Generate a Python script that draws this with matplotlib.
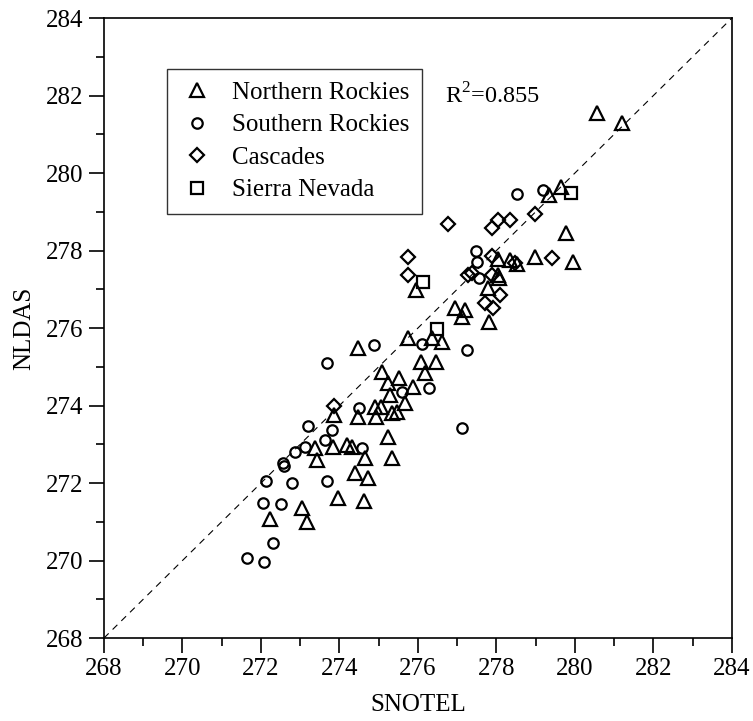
import matplotlib
matplotlib.use("Agg")
import matplotlib.pyplot as plt
from matplotlib.ticker import MultipleLocator, FormatStrFormatter

plt.rcParams['font.family'] = ['Liberation Serif', 'DejaVu Serif']
plt.rcParams['mathtext.fontset'] = 'custom'
plt.rcParams['mathtext.rm'] = 'Liberation Serif'

# Northern Rockies (triangles)
nr_x = [280.56, 281.2, 279.64, 279.34, 279.77, 279.95, 278.98, 278.04, 278.34, 278.52,
        278.04, 278.06, 277.78, 276.94, 277.2, 277.12, 277.81, 275.95, 275.75, 276.36,
        276.61, 276.08, 276.46, 276.18, 275.52, 275.87, 275.67, 275.46, 275.25, 275.34,
        274.47, 275.08, 275.24, 275.29, 273.86, 274.47, 274.9, 275.06, 274.93, 275.34,
        273.38, 273.83, 274.19, 274.32, 274.65, 273.43, 274.39, 274.73, 273.96, 274.62,
        273.04, 272.23, 273.17]
nr_y = [281.55, 281.3, 279.64, 279.43, 278.45, 277.70, 277.83, 277.78, 277.75, 277.65,
        277.37, 277.29, 277.03, 276.52, 276.46, 276.28, 276.15, 276.98, 275.74, 275.74,
        275.64, 275.12, 275.12, 274.84, 274.71, 274.48, 274.06, 273.83, 273.2, 272.65,
        275.48, 274.86, 274.58, 274.27, 273.76, 273.7, 273.96, 273.96, 273.7, 273.81,
        272.9, 272.93, 272.98, 272.93, 272.65, 272.59, 272.26, 272.13, 271.61, 271.54,
        271.35, 271.07, 270.99]

# Southern Rockies (circles)
sr_x = [279.18, 278.52, 277.48, 277.5, 277.55, 277.25, 276.1, 276.28, 275.6, 277.12,
        273.68, 274.88, 274.5, 273.2, 273.81, 273.63, 274.57, 272.87, 273.12, 272.56,
        272.58, 272.13, 272.79, 273.68, 272.05, 272.51, 272.31, 271.64, 272.08]
sr_y = [279.56, 279.46, 277.99, 277.70, 277.29, 275.43, 275.6, 274.45, 274.35, 273.42,
        275.1, 275.56, 273.94, 273.47, 273.37, 273.11, 272.9, 272.8, 272.93, 272.52,
        272.45, 272.05, 272.0, 272.05, 271.48, 271.46, 270.45, 270.06, 269.96]

# Cascades (diamonds)
ca_x = [276.77, 275.75, 275.75, 273.85, 277.88, 278.04, 278.34, 278.98, 277.9, 278.47,
        279.41, 277.38, 277.88, 278.09, 277.71, 277.91, 277.27]
ca_y = [278.68, 277.83, 277.37, 274.0, 278.58, 278.79, 278.79, 278.94, 277.86, 277.68,
        277.8, 277.42, 277.37, 276.85, 276.65, 276.52, 277.37]

# Sierra Nevada (squares)
sn_x = [279.9, 276.13, 276.48]
sn_y = [279.48, 277.19, 275.97]

fig = plt.figure(figsize=(7.53, 7.21), dpi=100)
ax = fig.add_axes([0.138, 0.115, 0.834, 0.86])

ax.plot([268, 284], [268, 284], color='black', lw=0.8, ls=(0, (6, 5)))

kw = dict(ls='none', mfc='none', mec='black', mew=1.6)
ax.plot(nr_x, nr_y, marker='^', ms=10, label='Northern Rockies', **kw)
ax.plot(sr_x, sr_y, marker='o', ms=7.5, label='Southern Rockies', **kw)
ax.plot(ca_x, ca_y, marker='D', ms=7, label='Cascades', **kw)
ax.plot(sn_x, sn_y, marker='s', ms=9, label='Sierra Nevada', **kw)

ax.set_xlim(268, 284)
ax.set_ylim(268, 284)
for axis in (ax.xaxis, ax.yaxis):
    axis.set_major_locator(MultipleLocator(2))
    axis.set_minor_locator(MultipleLocator(1))
    axis.set_major_formatter(FormatStrFormatter('%d'))
ax.tick_params(which='both', direction='out', top=False, right=False, labelsize=18, width=1.2)
ax.tick_params(which='major', length=11)
ax.tick_params(which='minor', length=5.5)
for s in ax.spines.values():
    s.set_linewidth(1.2)

ax.set_xlabel('SNOTEL', fontsize=18, labelpad=10)
ax.set_ylabel('NLDAS', fontsize=18, labelpad=8)

leg = ax.legend(loc='upper left', bbox_to_anchor=(0.1, 0.918), fontsize=18,
                frameon=True, fancybox=False, edgecolor='black', borderpad=0.5,
                handletextpad=0.7, labelspacing=0.4, handlelength=1.4, borderaxespad=0)
leg.get_frame().set_linewidth(1.0)

ax.text(276.7, 282.0, r'R$^2$=0.855', fontsize=17.5, va='center', ha='left')

fig.savefig('out.png', dpi=100)
